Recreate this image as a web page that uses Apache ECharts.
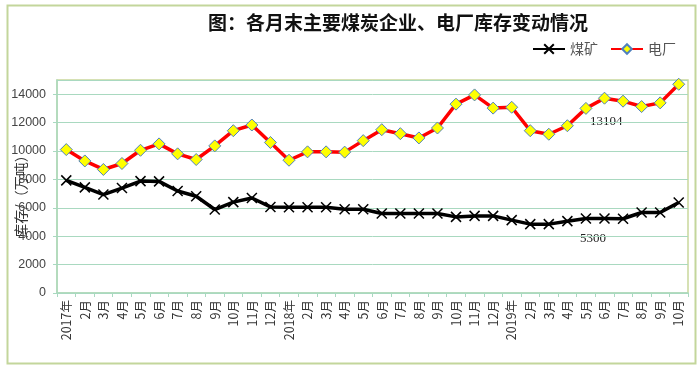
<!DOCTYPE html>
<html>
<head>
<meta charset="utf-8">
<script src="https://cdn.jsdelivr.net/npm/echarts@6/dist/echarts.min.js"></script>
<style>
html,body{margin:0;padding:0;background:#fff;}
#c{width:699px;height:369px;}
</style>
</head>
<body>
<div id="c"></div>
<script>
const categories = ['2017年','2月','3月','4月','5月','6月','7月','8月','9月','10月','11月','12月',
  '2018年','2月','3月','4月','5月','6月','7月','8月','9月','10月','11月','12月',
  '2019年','2月','3月','4月','5月','6月','7月','8月','9月','10月'];
const coalMine = [7930,7440,6930,7390,7880,7860,7180,6810,5880,6400,6690,6060,
  6040,6040,6040,5900,5900,5600,5600,5600,5600,5360,5430,5430,
  5130,4850,4850,5060,5250,5250,5230,5670,5670,6370];
const powerPlant = [10100,9300,8700,9120,10050,10500,9800,9400,10360,11430,11830,10600,
  9350,9940,9940,9920,10730,11500,11220,10920,11620,13300,13950,13020,
  13080,11430,11180,11780,13000,13720,13510,13130,13390,14700];
const yTicks = [0,2000,4000,6000,8000,10000,12000,14000];
const seriesNames = ['煤矿','电厂'];
const titleText = '图：各月末主要煤炭企业、电厂库存变动情况';
const yName = '库存/（万吨）';
const notes = ['13104','5300'];

const chart = echarts.init(document.getElementById('c'));
const gridColor = '#a9d9c0';
const sansFont = '"Noto Sans CJK SC","DejaVu Sans",sans-serif';
chart.setOption({
  animation:false,
  backgroundColor:'#fff',
  title:{text:titleText,left:203,top:8,
    textStyle:{fontFamily:'"Noto Sans CJK SC",sans-serif',fontSize:19,fontWeight:'bold',color:'#111'}},
  legend:{right:18,top:37,itemWidth:32,itemHeight:12,itemGap:12,
    textStyle:{fontFamily:'"Noto Sans CJK SC",serif',fontSize:14,color:'#555'},
    data:seriesNames},
  grid:{left:57,right:11,top:80,bottom:76,containLabel:false,outerBoundsMode:'none',
    show:true,borderColor:'#c9d89c',borderWidth:1.5},
  xAxis:{type:'category',data:categories,boundaryGap:true,
    axisLine:{lineStyle:{color:gridColor,width:1.5}},
    axisTick:{show:true,interval:0,length:4,lineStyle:{color:gridColor}},
    axisLabel:{interval:0,rotate:90,fontSize:12.5,color:'#333',fontFamily:sansFont,margin:7},
    splitLine:{show:false}},
  yAxis:{type:'value',min:0,max:15000,interval:2000,
    name:yName,nameLocation:'middle',nameGap:29,nameRotate:90,nameMoveOverlap:false,
    nameTextStyle:{fontFamily:sansFont,fontSize:14,color:'#333',padding:[0,13,0,0]},
    axisLine:{show:true,lineStyle:{color:gridColor,width:1.5}},
    axisTick:{show:true,length:4,lineStyle:{color:gridColor}},
    axisLabel:{showMaxLabel:false,fontSize:12.5,color:'#444',fontFamily:'"Liberation Sans",sans-serif',margin:11,
      formatter:function(v){return yTicks.indexOf(v)>=0?String(v):'';}},
    splitLine:{lineStyle:{color:gridColor,width:1}}},
  series:[
    {name:seriesNames[0],type:'line',data:coalMine,
      symbol:'path://M0,0L10,10M10,0L0,10',symbolSize:10,
      lineStyle:{color:'#000',width:3.5},
      itemStyle:{color:'#000',borderColor:'#000',borderWidth:1.5}},
    {name:seriesNames[1],type:'line',data:powerPlant,
      symbol:'diamond',symbolSize:12,
      lineStyle:{color:'#ff0000',width:3.5},
      itemStyle:{color:'#ffff00',borderColor:'#4f81bd',borderWidth:1}}
  ],
  graphic:[
    {type:'rect',left:5,top:3,shape:{width:688,height:358},
      style:{fill:'none',stroke:'#c3d69b',lineWidth:2},silent:true},
    {type:'text',left:590,top:115,style:{text:notes[0],font:'13px "Liberation Serif",serif',fill:'#222'}},
    {type:'text',left:580,top:232,style:{text:notes[1],font:'13px "Liberation Serif",serif',fill:'#222'}}
  ]
});
</script>
</body>
</html>
